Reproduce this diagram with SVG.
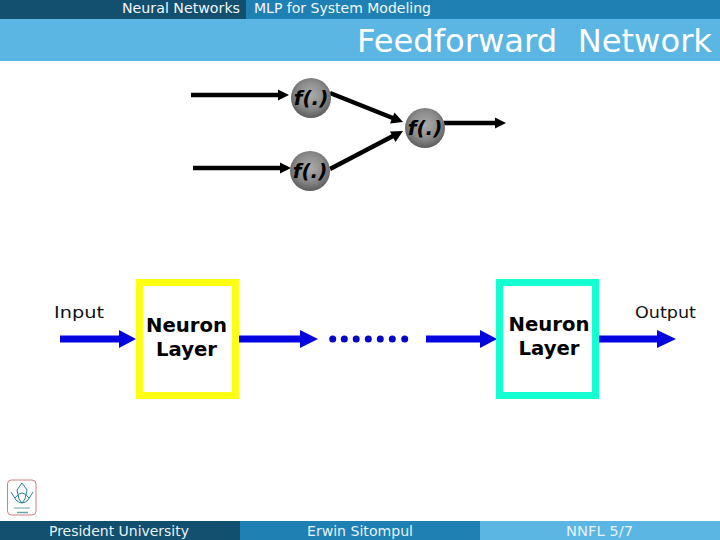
<svg xmlns="http://www.w3.org/2000/svg" width="720" height="540" viewBox="0 0 720 540">
<style>
text{font-family:"DejaVu Sans",sans-serif}
.h{fill:#f2f8fc;font-size:14px}
.f{fill:#e4f2f9;font-size:14px;text-anchor:middle}
.l{fill:#111;font-size:15px}
.n{fill:#000;font-size:19px;font-weight:bold;text-anchor:middle}
.fx{fill:#000;font-size:20px;font-weight:bold;font-style:italic;text-anchor:middle}
.k{stroke:#000;stroke-width:4.500;fill:none}
.kh{fill:#000}
.b{stroke:#0505e0;stroke-width:7;fill:none}
.bh{fill:#0505e0}
.d{fill:#0505c8}
.c{fill:url(#ball)}
</style>
<defs>
<radialGradient id="ball" cx="0.5" cy="0.42" r="0.58">
<stop offset="0" stop-color="#ababab"/><stop offset="0.6" stop-color="#8a8a8a"/><stop offset="1" stop-color="#5c5c5c"/>
</radialGradient>
</defs>
<rect width="720" height="540" fill="#fff"/>
<g id="header">
<rect x="0" y="0" width="720" height="19" fill="#1f80b4"/>
<rect x="0" y="0" width="246" height="19" fill="#134f6e"/>
<rect x="0" y="19" width="720" height="42" fill="#5bb6e3"/>
<text class="h" x="122" y="13" textLength="118" lengthAdjust="spacingAndGlyphs">Neural Networks</text>
<text class="h" x="254" y="13" textLength="177" lengthAdjust="spacingAndGlyphs">MLP for System Modeling</text>
<text x="357" y="52" font-size="32" fill="#fff" xml:space="preserve" textLength="355" lengthAdjust="spacingAndGlyphs">Feedforward  Network</text>
</g>
<g id="connectors">
<path class="k" d="M191 95H279"/><path class="kh" d="M289 95L278 89.500V100.500Z"/>
<path class="k" d="M193 168H281"/><path class="kh" d="M291 168L280 162.500V173.500Z"/>
<path class="k" d="M330 93L394 118.500"/><path class="kh" d="M403 122L390 123.500L394.500 112.500Z"/>
<path class="k" d="M330 169L394 135.500"/><path class="kh" d="M403 131L395.500 142L390 131.500Z"/>
<path class="k" d="M444 123H497"/><path class="kh" d="M506 123L495 117.500V128.500Z"/>
<path class="b" d="M60 339H120"/><path class="bh" d="M136 339L119 330V348Z"/>
<path class="b" d="M238 339H301"/><path class="bh" d="M318 339L300 330V348Z"/>
<path class="b" d="M426 339H481"/><path class="bh" d="M497 339L480 330V348Z"/>
<path class="b" d="M599 339H658"/><path class="bh" d="M676 339L657 330V348Z"/>
<g id="dots">
<circle class="d" cx="332.700" cy="339" r="3.500"/><circle class="d" cx="344.300" cy="339" r="3.500"/><circle class="d" cx="356.200" cy="339" r="3.500"/><circle class="d" cx="368.300" cy="339" r="3.500"/><circle class="d" cx="380.300" cy="339" r="3.500"/><circle class="d" cx="392.300" cy="339" r="3.500"/><circle class="d" cx="404.700" cy="339" r="3.500"/>
</g>
</g>
<g id="node-f1"><circle class="c" cx="311" cy="98" r="20"/><text class="fx" x="311" y="105">f(.)</text></g>
<g id="node-f2"><circle class="c" cx="310" cy="171" r="20"/><text class="fx" x="310" y="178">f(.)</text></g>
<g id="node-f3"><circle class="c" cx="425" cy="128" r="20"/><text class="fx" x="425" y="135">f(.)</text></g>
<g id="node-layer1"><rect x="139.500" y="282.500" width="96" height="113" fill="#fff" stroke="#ffff14" stroke-width="7"/>
<text class="n" x="186.500" y="332" textLength="81" lengthAdjust="spacingAndGlyphs">Neuron</text><text class="n" x="186.500" y="356" textLength="61" lengthAdjust="spacingAndGlyphs">Layer</text></g>
<g id="node-layer2"><rect x="499.500" y="282.500" width="96" height="113" fill="#fff" stroke="#14ffd2" stroke-width="7"/>
<text class="n" x="549" y="331" textLength="81" lengthAdjust="spacingAndGlyphs">Neuron</text><text class="n" x="549" y="355" textLength="61" lengthAdjust="spacingAndGlyphs">Layer</text></g>
<text class="l" x="54" y="318" textLength="50" lengthAdjust="spacingAndGlyphs">Input</text>
<text class="l" x="635" y="318" textLength="61" lengthAdjust="spacingAndGlyphs">Output</text>
<g id="logo" fill="none">
<rect x="7.500" y="480" width="28.500" height="35" rx="4" stroke="#d08080" stroke-width="1"/>
<path d="M22 483L27 490L25 499L22 503L19 499L17 490Z" stroke="#2a7f98" stroke-width="1"/>
<path d="M11 492L16 500Q22 506 28 500L33 492M15 498Q22 488 29 498" stroke="#2a7f98" stroke-width="1"/>
<path d="M14 508H30" stroke="#9cbcc8" stroke-width="1.500"/><path d="M17 512.500H28" stroke="#6fa0b0" stroke-width="1.500"/>
</g>
<g id="footer">
<rect x="0" y="521" width="240" height="19" fill="#134f6e"/>
<rect x="240" y="521" width="240" height="19" fill="#1f80b4"/>
<rect x="480" y="521" width="240" height="19" fill="#5bb6e3"/>
<text class="f" x="119" y="536" textLength="140" lengthAdjust="spacingAndGlyphs">President University</text>
<text class="f" x="360" y="536" textLength="106" lengthAdjust="spacingAndGlyphs">Erwin Sitompul</text>
<text class="f" x="599.500" y="536" textLength="67" lengthAdjust="spacingAndGlyphs">NNFL 5/7</text>
</g>
</svg>
